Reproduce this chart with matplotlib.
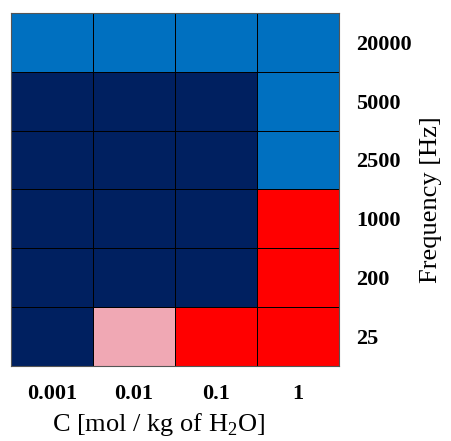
import numpy as np
import matplotlib
matplotlib.use("Agg")
import matplotlib.pyplot as plt
from matplotlib.colors import ListedColormap

plt.rcParams["font.family"] = ["Liberation Serif", "DejaVu Serif"]
plt.rcParams["mathtext.fontset"] = "custom"
plt.rcParams["mathtext.rm"] = "Liberation Serif"

conc = ["0.001", "0.01", "0.1", "1"]
freq = ["25", "200", "1000", "2500", "5000", "20000"]   # bottom -> top
# category per cell: 0 navy, 1 blue, 2 red, 3 pink ; rows follow freq order
cat_25    = [0, 3, 2, 2]
cat_200   = [0, 0, 0, 2]
cat_1000  = [0, 0, 0, 2]
cat_2500  = [0, 0, 0, 1]
cat_5000  = [0, 0, 0, 1]
cat_20000 = [1, 1, 1, 1]
COLORS = ["#002060", "#0070C0", "#FF0000", "#F0A8B4"]

grid = np.array([cat_25, cat_200, cat_1000, cat_2500, cat_5000, cat_20000])

fig = plt.figure(figsize=(4.51, 4.41), dpi=100)
ax = fig.add_axes([0.024, 0.170, 0.728, 0.801])
ax.pcolormesh(grid, cmap=ListedColormap(COLORS), vmin=-0.5, vmax=3.5,
              edgecolors="black", linewidth=0.6)

ax.set_xticks(np.arange(len(conc)) + 0.5)
ax.set_xticklabels(conc, fontsize=16, fontweight="bold")
ax.set_yticks(np.arange(len(freq)) + 0.5)
ax.set_yticklabels(freq, fontsize=16, fontweight="bold")
ax.yaxis.tick_right()
ax.tick_params(axis="both", length=0)
ax.tick_params(axis="x", pad=13)
ax.tick_params(axis="y", pad=12)

ax.set_xlabel("C [mol / kg of H$_2$O]", fontsize=19)
ax.xaxis.set_label_coords(0.45, -0.128)
ax.set_ylabel("Frequency [Hz]", fontsize=19, rotation=90)
ax.yaxis.set_label_position("right")
ax.yaxis.set_label_coords(1.245, 0.47)

for s in ax.spines.values():
    s.set_color("#555555"); s.set_linewidth(0.8)

fig.savefig("out.png", dpi=100)
